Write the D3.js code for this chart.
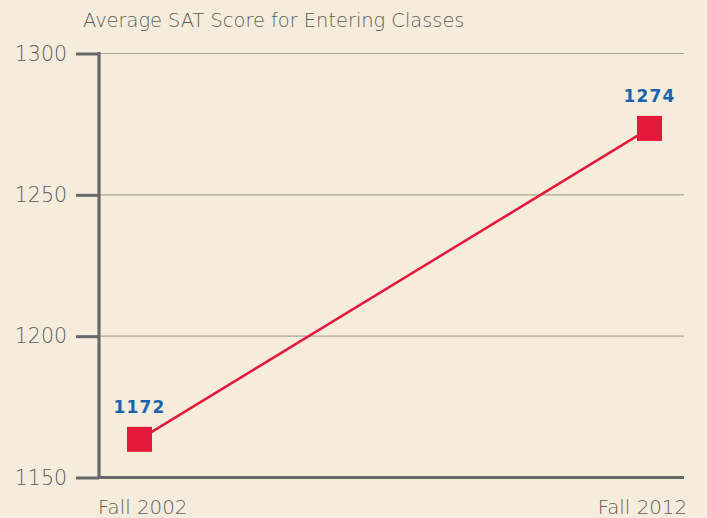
<!doctype html>
<html lang="en">
<head>
  <meta charset="UTF-8">
  <title>Average SAT Score for Entering Classes</title>
  <script src="https://cdn.jsdelivr.net/npm/d3@7"></script>
  <style>
    body { margin: 0; background: #f5ecdb; }
    svg { display: block; }
    text { font-family: "DejaVu Sans", sans-serif; }
    .title { font-size: 19.4px; font-weight: 200; fill: #5f5d5b; }
    .axis text { font-size: 20.5px; font-weight: 200; fill: #5f5d5b; }
    .axis .xlabel { font-size: 19.8px; }
    .value { font-size: 17px; font-weight: 700; fill: #1a62ad; letter-spacing: 1.2px; }
  </style>
</head>
<body>
<script>
  // data
  var categories = ["Fall 2002", "Fall 2012"];
  var scores = [1163.5, 1273.5];        // where the markers sit
  var valueLabels = ["1172", "1274"];  // what the labels say
  var yTicks = [1150, 1200, 1250, 1300];

  var width = 707, height = 518;
  var axisLeft = 99, axisRight = 684;

  var svg = d3.select("body").append("svg")
    .attr("width", width)
    .attr("height", height);

  var xScale = d3.scalePoint()
    .domain(categories)
    .range([139.5, 649.5]);

  var yScale = d3.scaleLinear()
    .domain([1150, 1300])
    .range([477.5, 53.5]);

  // gridlines
  svg.append("g")
    .selectAll("line")
    .data(yTicks.slice(1))
    .enter().append("line")
    .attr("x1", axisLeft)
    .attr("x2", axisRight)
    .attr("y1", function(d) { return yScale(d); })
    .attr("y2", function(d) { return yScale(d); })
    .style("stroke", "#aaa59d")
    .style("stroke-width", 1.2);

  // y axis
  var yAxis = d3.axisLeft(yScale)
    .tickValues(yTicks)
    .tickFormat(d3.format("d"))
    .tickSize(23)
    .tickPadding(9);

  var gy = svg.append("g")
    .attr("class", "axis")
    .attr("transform", "translate(" + axisLeft + ",0)")
    .call(yAxis);
  gy.select(".domain").remove();
  gy.selectAll(".tick line").style("stroke", "#68686a").style("stroke-width", 3);

  svg.append("line")
    .attr("x1", axisLeft).attr("x2", axisLeft)
    .attr("y1", yScale(1300) - 1.5).attr("y2", yScale(1150) + 1.5)
    .style("stroke", "#68686a")
    .style("stroke-width", 3.2);

  // x axis line
  svg.append("line")
    .attr("x1", axisLeft).attr("x2", axisRight)
    .attr("y1", yScale(1150)).attr("y2", yScale(1150))
    .style("stroke", "#68686a")
    .style("stroke-width", 3.2);

  // x labels: first left aligned to the axis, last right aligned
  svg.append("g")
    .attr("class", "axis")
    .selectAll("text")
    .data(categories)
    .enter().append("text")
    .attr("class", "xlabel")
    .attr("x", function(d, i) { return i === 0 ? axisLeft - 1 : axisRight + 3; })
    .attr("y", 514)
    .attr("text-anchor", function(d, i) { return i === 0 ? "start" : "end"; })
    .text(function(d) { return d; });

  // line and markers
  var line = d3.line()
    .x(function(d, i) { return xScale(categories[i]); })
    .y(function(d) { return yScale(d); });

  svg.append("path")
    .datum(scores)
    .attr("d", line)
    .style("fill", "none")
    .style("stroke", "#e4193a")
    .style("stroke-width", 2.5);

  var size = 25;
  svg.append("g")
    .selectAll("rect")
    .data(scores)
    .enter().append("rect")
    .attr("x", function(d, i) { return xScale(categories[i]) - size / 2; })
    .attr("y", function(d) { return yScale(d) - size / 2; })
    .attr("width", size)
    .attr("height", size)
    .style("fill", "#e4193a");

  svg.append("g")
    .selectAll("text")
    .data(scores)
    .enter().append("text")
    .attr("class", "value")
    .attr("x", function(d, i) { return xScale(categories[i]); })
    .attr("y", function(d) { return yScale(d) - 26.5; })
    .attr("text-anchor", "middle")
    .text(function(d, i) { return valueLabels[i]; });

  svg.append("text")
    .attr("class", "title")
    .attr("x", 83)
    .attr("y", 27)
    .text("Average SAT Score for Entering Classes");
</script>
</body>
</html>
